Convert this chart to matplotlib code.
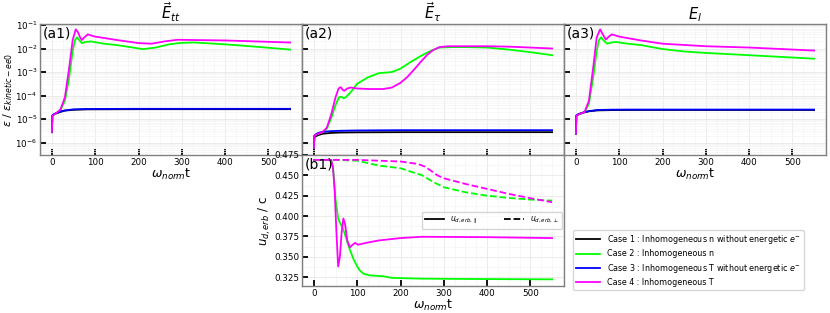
import matplotlib
matplotlib.use("Agg")
import matplotlib.pyplot as plt
from matplotlib.ticker import AutoMinorLocator, MultipleLocator

# ---- data ----
case_labels = ["Case 1 : Inhomogeneous n without energetic $e^{-}$",
               "Case 2 : Inhomogeneous n",
               "Case 3 : Inhomogeneous T without energetic $e^{-}$",
               "Case 4 : Inhomogeneous T"]
case_colors = ["black", "lime", "blue", "magenta"]

# (a1) E_tt
t_a1_flat = [0, 1, 5, 10, 20, 30, 50, 80, 120, 200, 550]
a1_case1 = [2.8e-6, 1.4e-5, 1.6e-5, 1.75e-5, 2.05e-5, 2.3e-5, 2.5e-5, 2.6e-5, 2.62e-5, 2.65e-5, 2.65e-5]
a1_case3 = [2.8e-6, 1.45e-5, 1.65e-5, 1.8e-5, 2.1e-5, 2.35e-5, 2.6e-5, 2.7e-5, 2.72e-5, 2.75e-5, 2.75e-5]
t_a1_case2 = [0, 1, 10, 20, 30, 40, 48, 53, 58, 63, 69, 78, 90, 120, 150, 180, 210, 240, 270, 300, 330, 400, 470, 550]
a1_case2 = [2.8e-6, 1.4e-5, 1.8e-5, 2.5e-5, 6e-5, 6e-4, 8e-3, 2.2e-2, 3e-2, 2.3e-2, 1.7e-2, 1.9e-2, 2e-2,
            1.6e-2, 1.4e-2, 1.15e-2, 9.4e-3, 1.1e-2, 1.5e-2, 1.75e-2, 1.8e-2, 1.5e-2, 1.2e-2, 9e-3]
t_a1_case4 = [0, 1, 10, 20, 30, 40, 48, 55, 60, 65, 69, 75, 83, 90, 100, 150, 200, 230, 260, 290, 400, 550]
a1_case4 = [2.8e-6, 1.4e-5, 1.8e-5, 2.6e-5, 8.5e-5, 1.6e-3, 2.3e-2, 6.5e-2, 5e-2, 3e-2, 2.3e-2, 3e-2, 4e-2,
            3.6e-2, 3.2e-2, 2.3e-2, 1.7e-2, 1.6e-2, 2e-2, 2.35e-2, 2.2e-2, 1.8e-2]

# (a2) E_tau
t_a2_flat = [0, 1, 5, 10, 20, 40, 60, 100, 200, 550]
a2_case1 = [6e-7, 1.7e-6, 1.9e-6, 2.1e-6, 2.4e-6, 2.6e-6, 2.7e-6, 2.75e-6, 2.8e-6, 2.8e-6]
a2_case3 = [6e-7, 2e-6, 2.3e-6, 2.6e-6, 2.9e-6, 3.1e-6, 3.2e-6, 3.3e-6, 3.4e-6, 3.4e-6]
t_a2_case2 = [0, 1, 10, 20, 30, 40, 50, 58, 63, 69, 75, 85, 100, 125, 150, 180, 200, 225, 250, 270, 290,
              320, 350, 400, 450, 500, 550]
a2_case2 = [6e-7, 2e-6, 2.4e-6, 2.8e-6, 4e-6, 1.1e-5, 4e-5, 8.5e-5, 9e-5, 7.7e-5, 9e-5, 1.4e-4, 3.2e-4,
            6e-4, 9e-4, 1e-3, 1.4e-3, 2.8e-3, 5.2e-3, 8e-3, 1.1e-2, 1.15e-2, 1.15e-2, 1.1e-2, 9e-3, 7e-3, 5.2e-3]
t_a2_case4 = [0, 1, 10, 20, 30, 40, 50, 57, 62, 66, 70, 77, 85, 100, 130, 160, 180, 200, 215, 230, 245,
              262, 275, 290, 310, 350, 400, 450, 500, 550]
a2_case4 = [6e-7, 2e-6, 2.4e-6, 2.8e-6, 4.4e-6, 1.6e-5, 8.5e-5, 2e-4, 2.3e-4, 1.8e-4, 1.6e-4, 2e-4, 2.2e-4,
            2e-4, 1.9e-4, 1.9e-4, 2.2e-4, 3.5e-4, 6e-4, 1.2e-3, 2.5e-3, 5.5e-3, 8.5e-3, 1.15e-2, 1.25e-2,
            1.25e-2, 1.25e-2, 1.2e-2, 1.1e-2, 1e-2]

# (a3) E_l
t_a3_flat = [0, 1, 5, 10, 20, 30, 50, 80, 120, 200, 550]
a3_case1 = [2.4e-6, 1.4e-5, 1.55e-5, 1.7e-5, 1.95e-5, 2.15e-5, 2.35e-5, 2.42e-5, 2.45e-5, 2.45e-5, 2.45e-5]
a3_case3 = [2.4e-6, 1.45e-5, 1.6e-5, 1.75e-5, 2e-5, 2.2e-5, 2.45e-5, 2.52e-5, 2.55e-5, 2.55e-5, 2.55e-5]
t_a3_case2 = [0, 1, 10, 20, 30, 40, 48, 53, 58, 64, 72, 82, 92, 120, 150, 200, 250, 300, 400, 550]
a3_case2 = [2.4e-6, 1.4e-5, 1.7e-5, 2e-5, 4.5e-5, 6e-4, 8e-3, 2.2e-2, 3e-2, 2.2e-2, 1.6e-2, 1.8e-2, 1.9e-2,
            1.6e-2, 1.4e-2, 9.5e-3, 7.5e-3, 6.5e-3, 5.2e-3, 3.7e-3]
t_a3_case4 = [0, 1, 10, 20, 30, 40, 48, 56, 62, 69, 76, 83, 100, 150, 200, 300, 400, 550]
a3_case4 = [2.4e-6, 1.4e-5, 1.7e-5, 2e-5, 6e-5, 1.6e-3, 3e-2, 6.5e-2, 4e-2, 2.4e-2, 3.2e-2, 4e-2, 3.2e-2,
            2.2e-2, 1.6e-2, 1.25e-2, 1.1e-2, 8.2e-3]

# (b1) drift velocity
t_b1_case2_par = [0, 40, 45, 50, 56, 60, 64, 70, 75, 82, 91, 100, 106, 115, 129, 160, 180, 250, 400, 550]
b1_case2_par = [0.469, 0.469, 0.455, 0.42, 0.397, 0.392, 0.388, 0.380, 0.372, 0.36, 0.3475, 0.338, 0.333,
                0.329, 0.327, 0.326, 0.324, 0.323, 0.3225, 0.3222]
t_b1_case4_par = [0, 40, 44, 48, 52, 56, 60, 64, 68, 72, 77, 83, 90, 95, 102, 120, 150, 200, 250, 400, 550]
b1_case4_par = [0.469, 0.469, 0.46, 0.43, 0.38, 0.338, 0.35, 0.38, 0.397, 0.39, 0.37, 0.3615, 0.365, 0.367,
                0.3647, 0.367, 0.37, 0.3729, 0.3745, 0.374, 0.3729]
t_b1_case2_perp = [0, 50, 100, 150, 200, 250, 275, 300, 350, 400, 450, 500, 550]
b1_case2_perp = [0.469, 0.469, 0.468, 0.462, 0.4587, 0.45, 0.442, 0.4354, 0.4292, 0.425, 0.4222, 0.4202, 0.419]
t_b1_case4_perp = [0, 100, 150, 200, 240, 255, 270, 285, 300, 350, 400, 450, 500, 550]
b1_case4_perp = [0.469, 0.469, 0.468, 0.467, 0.464, 0.461, 0.4558, 0.45, 0.4464, 0.4394, 0.4333, 0.4272,
                 0.4219, 0.417]

titles = [r"$\vec{E}_{tt}$", r"$\vec{E}_{\tau}$", r"$E_{l}$"]
panel_tags = ["(a1)", "(a2)", "(a3)"]

plt.rcParams['font.family'] = ['DejaVu Sans']
fig = plt.figure(figsize=(8.3, 3.13), dpi=100)

W, H = 830.0, 313.0
left, colw = 40, 262
top, rowh = 24, 131


def style_axes(ax):
    for sp in ax.spines.values():
        sp.set_color('#808080')
        sp.set_linewidth(1.0)
    ax.tick_params(which='major', direction='in', length=4, width=1.3, color='black',
                   labelsize=6.3, pad=2)
    ax.tick_params(which='minor', length=0)
    ax.grid(True, which='major', color='#e8e8e8', linewidth=0.6)
    ax.grid(True, which='minor', color='#f4f4f4', linewidth=0.5)
    ax.set_axisbelow(True)


top_axes = []
for i in range(3):
    ax = fig.add_axes([(left + i * colw) / W, 1 - (top + rowh) / H, colw / W, rowh / H])
    top_axes.append(ax)

series = [
    (t_a1_flat, a1_case1, t_a1_case2, a1_case2, t_a1_flat, a1_case3, t_a1_case4, a1_case4),
    (t_a2_flat, a2_case1, t_a2_case2, a2_case2, t_a2_flat, a2_case3, t_a2_case4, a2_case4),
    (t_a3_flat, a3_case1, t_a3_case2, a3_case2, t_a3_flat, a3_case3, t_a3_case4, a3_case4),
]

for i, ax in enumerate(top_axes):
    s = series[i]
    for k in range(4):
        ax.plot(s[2 * k], s[2 * k + 1], color=case_colors[k], linewidth=1.3, label=case_labels[k])
    ax.set_yscale('log')
    ax.set_ylim(3e-7, 1.1e-1)
    ax.set_xlim(-27.5, 577.5)
    ax.xaxis.set_major_locator(MultipleLocator(100))
    ax.xaxis.set_minor_locator(AutoMinorLocator(4))
    style_axes(ax)
    ax.set_title(titles[i], fontsize=10.5, pad=2)
    ax.text(0.01, 0.98, panel_tags[i], transform=ax.transAxes, fontsize=10, va='top', ha='left')
    if i > 0:
        ax.tick_params(labelleft=False)
    if i == 1:
        ax.tick_params(labelbottom=False)
    else:
        ax.set_xlabel(r"$\omega_{norm}$t", fontsize=9, labelpad=0)

top_axes[0].set_ylabel(r"$\epsilon$ / $\epsilon_{kinetic-ee0}$", fontsize=8, labelpad=0)

# bottom panel
axb = fig.add_axes([(left + colw) / W, 1 - (top + 2 * rowh) / H, colw / W, rowh / H])
axb.plot(t_b1_case2_par, b1_case2_par, color='lime', linewidth=1.3)
axb.plot(t_b1_case4_par, b1_case4_par, color='magenta', linewidth=1.3)
axb.plot(t_b1_case2_perp, b1_case2_perp, color='lime', linewidth=1.3, linestyle='--')
axb.plot(t_b1_case4_perp, b1_case4_perp, color='magenta', linewidth=1.3, linestyle='--')
axb.plot([], [], color='black', linewidth=1.3, label=r"$u_{d,erb,\parallel}$")
axb.plot([], [], color='black', linewidth=1.3, linestyle='--', label=r"$u_{d,erb,\perp}$")
axb.set_xlim(-27.5, 577.5)
axb.set_ylim(0.314, 0.475)
axb.xaxis.set_major_locator(MultipleLocator(100))
axb.xaxis.set_minor_locator(AutoMinorLocator(4))
axb.yaxis.set_major_locator(MultipleLocator(0.025))
axb.yaxis.set_minor_locator(AutoMinorLocator(2))
style_axes(axb)
axb.text(0.01, 0.98, "(b1)", transform=axb.transAxes, fontsize=10, va='top', ha='left')
axb.set_xlabel(r"$\omega_{norm}$t", fontsize=9, labelpad=0)
axb.set_ylabel(r"$u_{d,erb}$ / c", fontsize=8.5, labelpad=1)
axb.legend(loc='center right', ncol=2, fontsize=5.5, handlelength=2.5, columnspacing=3.5,
           borderaxespad=0.3)

handles, labels = top_axes[0].get_legend_handles_labels()
fig.legend(handles, labels, loc='upper left', bbox_to_anchor=(573 / W, 1 - 230 / H),
           fontsize=5.8, borderaxespad=0, handlelength=3, labelspacing=0.4)

fig.savefig("out.png", dpi=100)
